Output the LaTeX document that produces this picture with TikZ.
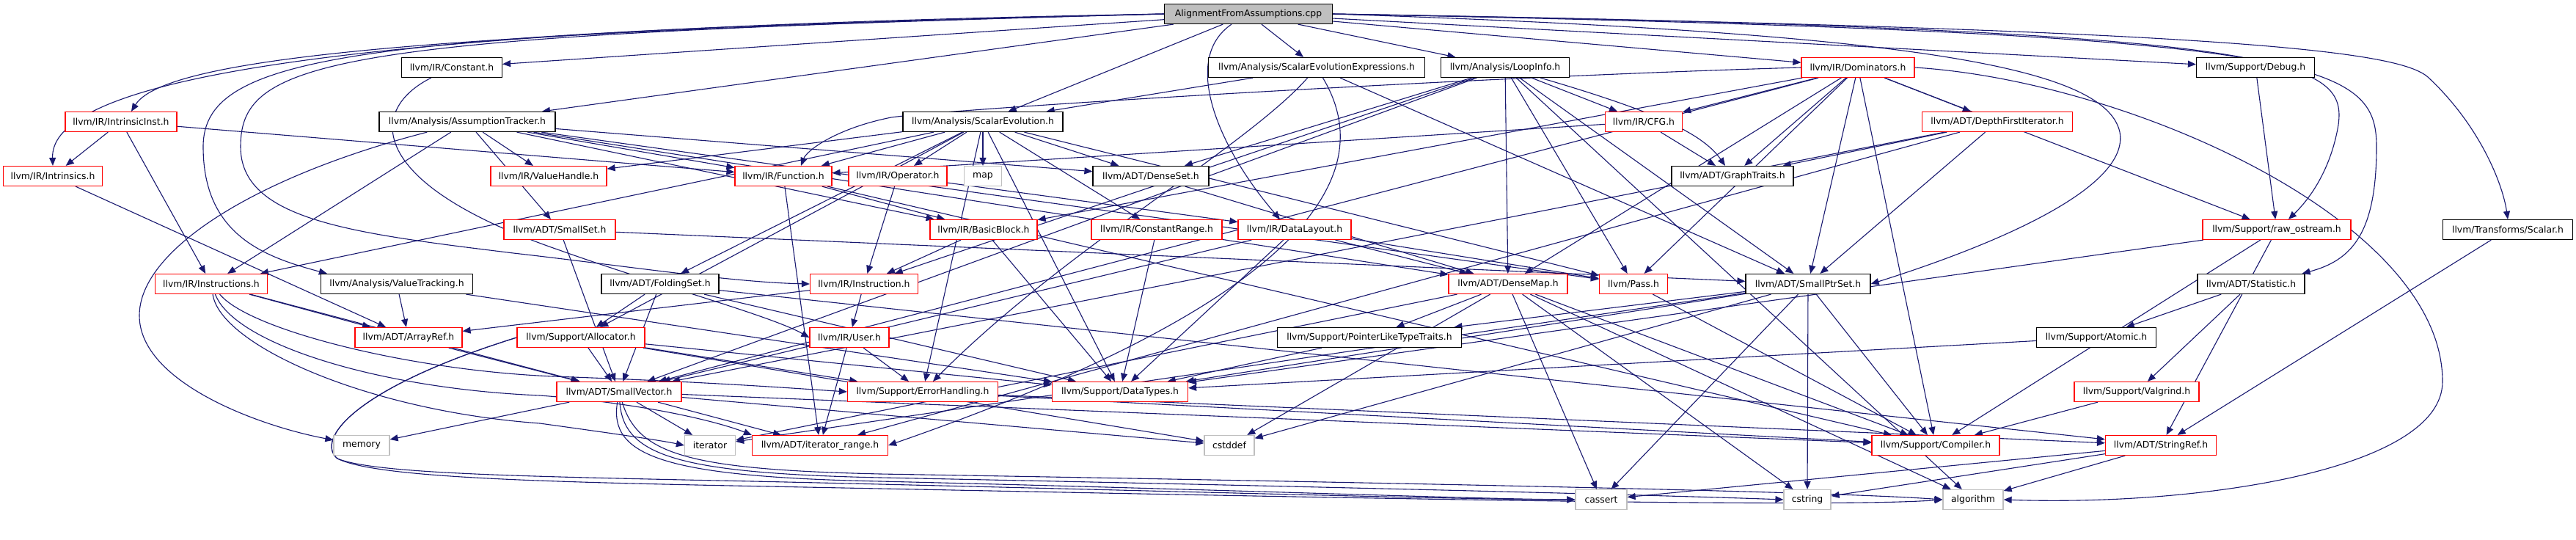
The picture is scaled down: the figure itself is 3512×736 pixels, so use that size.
\documentclass[tikz,border=0pt]{standalone}
\usepackage{fontspec}
\setmainfont{DejaVu Sans}
\usetikzlibrary{arrows.meta}
\definecolor{edgeblue}{HTML}{191970}
\definecolor{sysgray}{HTML}{BFBFBF}
\definecolor{nodered}{HTML}{FF0000}
\newcommand\nodefont{\fontsize{12.4}{14}\selectfont}
\newcommand\lnk[2]{\draw[e] (#1) -- (#2);}
\pgfdeclarelayer{bg}
\pgfsetlayers{bg,main}
\tikzset{
  nd/.style={draw, fill=white, minimum height=27pt, inner sep=0pt, font=\nodefont, line width=1.2pt},
  blknd/.style={nd, draw=black},
  rednd/.style={nd, draw=nodered},
  sysnd/.style={nd, draw=sysgray},
  mainnd/.style={nd, draw=black, fill=sysgray},
  e/.style={draw=edgeblue, line width=1.1pt, -{Triangle[length=11pt,width=9pt]}}
}
\begin{document}
\begin{tikzpicture}[x=1pt,y=-1pt]
\useasboundingbox (0,0) rectangle (3512,736);
% rank 0
\node[mainnd, minimum width=229pt] (cpp) at (1702,19) {AlignmentFromAssumptions.cpp};
% rank 1
\node[blknd, minimum width=137pt] (constant) at (616,92) {llvm/IR/Constant.h};
\node[blknd, minimum width=295pt] (sceexp) at (1795,92) {llvm/Analysis/ScalarEvolutionExpressions.h};
\node[blknd, minimum width=175pt] (loopinfo) at (2052,92) {llvm/Analysis/LoopInfo.h};
\node[rednd, minimum width=154pt] (dom) at (2533,92) {llvm/IR/Dominators.h};
\node[blknd, minimum width=161pt] (debug) at (3075,92) {llvm/Support/Debug.h};
% rank 2
\node[rednd, minimum width=152pt] (intrinst) at (165,166) {llvm/IR/IntrinsicInst.h};
\node[blknd, minimum width=240pt] (assump) at (637,166) {llvm/Analysis/AssumptionTracker.h};
\node[blknd, minimum width=218pt] (sce) at (1340,166) {llvm/Analysis/ScalarEvolution.h};
\node[rednd, minimum width=105pt] (cfg) at (2241,166) {llvm/IR/CFG.h};
\node[rednd, minimum width=205pt] (dfi) at (2723,166) {llvm/ADT/DepthFirstIterator.h};
% rank 3
\node[rednd, minimum width=135pt] (intrinsics) at (72,240) {llvm/IR/Intrinsics.h};
\node[rednd, minimum width=158pt] (vh) at (748,240) {llvm/IR/ValueHandle.h};
\node[rednd, minimum width=132pt] (func) at (1068,240) {llvm/IR/Function.h};
\node[rednd, minimum width=134pt] (oper) at (1224,240) {llvm/IR/Operator.h};
\node[sysnd, minimum width=51pt] (map) at (1340,240) {map};
\node[blknd, minimum width=158pt] (denseset) at (1569,240) {llvm/ADT/DenseSet.h};
\node[blknd, minimum width=166pt] (graphtraits) at (2362,240) {llvm/ADT/GraphTraits.h};
% rank 4
\node[rednd, minimum width=152pt] (smallset) at (763,313) {llvm/ADT/SmallSet.h};
\node[rednd, minimum width=146pt] (bb) at (1341,313) {llvm/IR/BasicBlock.h};
\node[rednd, minimum width=178pt] (crange) at (1577,313) {llvm/IR/ConstantRange.h};
\node[rednd, minimum width=154pt] (dl) at (1765,313) {llvm/IR/DataLayout.h};
\node[rednd, minimum width=202pt] (rawos) at (3104,313) {llvm/Support/raw\_ostream.h};
\node[blknd, minimum width=177pt] (scalar) at (3419,313) {llvm/Transforms/Scalar.h};
% rank 5
\node[rednd, minimum width=153pt] (instrs) at (288,387) {llvm/IR/Instructions.h};
\node[blknd, minimum width=207pt] (vt) at (541,387) {llvm/Analysis/ValueTracking.h};
\node[blknd, minimum width=160pt] (folding) at (900,387) {llvm/ADT/FoldingSet.h};
\node[rednd, minimum width=147pt] (instr) at (1178,387) {llvm/IR/Instruction.h};
\node[rednd, minimum width=162pt] (densemap) at (2056,387) {llvm/ADT/DenseMap.h};
\node[rednd, minimum width=93pt] (pass) at (2227,387) {llvm/Pass.h};
\node[blknd, minimum width=170pt] (smallptr) at (2465,387) {llvm/ADT/SmallPtrSet.h};
\node[blknd, minimum width=146pt] (statistic) at (3069,387) {llvm/ADT/Statistic.h};
% rank 6
\node[rednd, minimum width=146pt] (arrayref) at (557,460) {llvm/ADT/ArrayRef.h};
\node[rednd, minimum width=174pt] (alloc) at (792,460) {llvm/Support/Allocator.h};
\node[rednd, minimum width=108pt] (user) at (1158,460) {llvm/IR/User.h};
\node[blknd, minimum width=251pt] (plt) at (1867,460) {llvm/Support/PointerLikeTypeTraits.h};
\node[blknd, minimum width=163pt] (atomic) at (2858,460) {llvm/Support/Atomic.h};
% rank 7
\node[rednd, minimum width=170pt] (smallvec) at (844,534) {llvm/ADT/SmallVector.h};
\node[rednd, minimum width=205pt] (errh) at (1258,534) {llvm/Support/ErrorHandling.h};
\node[rednd, minimum width=185pt] (datatypes) at (1527,534) {llvm/Support/DataTypes.h};
\node[rednd, minimum width=170pt] (valgrind) at (2913,534) {llvm/Support/Valgrind.h};
% rank 8
\node[sysnd, minimum width=76pt] (memory) at (493,607) {memory};
\node[sysnd, minimum width=69pt] (iterator) at (968,607) {iterator};
\node[rednd, minimum width=185pt] (itrange) at (1118,607) {llvm/ADT/iterator\_range.h};
\node[sysnd, minimum width=68pt] (cstddef) at (1676,607) {cstddef};
\node[rednd, minimum width=174pt] (compiler) at (2639,607) {llvm/Support/Compiler.h};
\node[rednd, minimum width=151pt] (stringref) at (2946,607) {llvm/ADT/StringRef.h};
% rank 9
\node[sysnd, minimum width=70pt] (cassert) at (2183,681) {cassert};
\node[sysnd, minimum width=64pt] (cstring) at (2464,681) {cstring};
\node[sysnd, minimum width=82pt] (algorithm) at (2690,681) {algorithm};

\begin{pgfonlayer}{bg}
\fill[white] (0,0) rectangle (3512,736);
% from the .cpp file
\draw[e] (cpp.west) .. controls (700,35) and (67,80) .. (intrinsics.north);
\draw[e] (cpp.west) .. controls (700,42) and (230,70) .. ([xshift=14pt]intrinst.north);
\draw[e] (cpp.west) .. controls (500,45) and (277,70) .. (277,200) .. controls (277,320) and (360,350) .. ([xshift=9pt]vt.north west);
\draw[e] (cpp.west) .. controls (450,48) and (328,80) .. (328,200) .. controls (328,300) and (480,318) .. (700,345) .. controls (850,362) and (1000,385) .. (instr.west);
\lnk{cpp}{constant}
\lnk{cpp}{assump}
\lnk{cpp}{sce}
\lnk{cpp}{sceexp}
\lnk{cpp}{loopinfo}
\lnk{cpp}{dom}
\lnk{cpp}{debug}
\draw[e] ([xshift=-23pt]cpp.south) .. controls (1610,80) and (1660,200) .. ([xshift=-20pt]dl.north);
\draw[e] (cpp.east) .. controls (3120,40) and (3200,80) .. (3188,170) .. controls (3178,230) and (3150,270) .. ([xshift=16pt]rawos.north);
\draw[e] (cpp.east) .. controls (3150,45) and (3240,80) .. (3240,200) .. controls (3240,320) and (3205,355) .. ([xshift=-4pt]statistic.north east);
\draw[e] (cpp.east) .. controls (3050,40) and (3270,70) .. (3310,105) .. controls (3380,170) and (3412,250) .. (scalar.north);
\draw[e] (cpp.east) .. controls (2600,45) and (2870,90) .. (2890,180) .. controls (2905,260) and (2700,340) .. (smallptr.east);
% Constant.h
\draw[e] (constant) .. controls (500,150) and (500,250) .. (760,340) .. controls (900,390) and (1050,430) .. (user.west);
% ScalarEvolutionExpressions.h
\lnk{sceexp}{sce}
\lnk{sceexp}{smallptr}
\draw[e] (sceexp) .. controls (1700,200) and (1450,340) .. (errh);
\draw[e] (sceexp) .. controls (1890,250) and (1750,420) .. (itrange.east);
% LoopInfo.h
\lnk{loopinfo}{densemap}
\lnk{loopinfo}{denseset}
\draw[e] (loopinfo) .. controls (2250,150) and (2320,180) .. ([xshift=-10pt]graphtraits.north);
\lnk{loopinfo}{smallptr}
\lnk{loopinfo}{smallvec}
\lnk{loopinfo}{cfg}
\lnk{loopinfo}{instr}
\lnk{loopinfo}{pass}
\lnk{loopinfo}{algorithm}
% Dominators.h
\lnk{dom}{densemap}
\lnk{dom}{dfi}
\lnk{dom}{graphtraits}
\lnk{dom}{smallptr}
\lnk{dom}{smallvec}
\lnk{dom}{bb}
\lnk{dom}{cfg}
\draw[e] (dom.west) .. controls (2000,105) and (1300,148) .. (1215,160) .. controls (1140,175) and (1100,205) .. ([xshift=24pt]func.north);
\lnk{dom}{pass}
\lnk{dom}{compiler}
\lnk{dom}{rawos}
\draw[e] (dom.east) .. controls (2900,110) and (3330,300) .. (3330,520) .. controls (3330,640) and (3000,690) .. (algorithm.east);
% Debug.h
\lnk{debug}{rawos}
% IntrinsicInst.h
\lnk{intrinst}{func}
\lnk{intrinst}{instrs}
\lnk{intrinst}{intrinsics}
% AssumptionTracker.h
\lnk{assump}{densemap}
\lnk{assump}{denseset}
\lnk{assump}{smallset}
\lnk{assump}{bb}
\lnk{assump}{func}
\lnk{assump}{instrs}
\lnk{assump}{vh}
\lnk{assump}{pass}
\draw[e] (assump) .. controls (350,240) and (190,340) .. (190,430) .. controls (190,520) and (350,580) .. (memory);
% ScalarEvolution.h
\lnk{sce}{denseset}
\lnk{sce}{folding}
\lnk{sce}{crange}
\lnk{sce}{func}
\lnk{sce}{instrs}
\lnk{sce}{oper}
\lnk{sce}{vh}
\lnk{sce}{pass}
\lnk{sce}{alloc}
\lnk{sce}{datatypes}
\lnk{sce}{errh}
\lnk{sce}{map}
% CFG.h
\lnk{cfg}{graphtraits}
\lnk{cfg}{func}
% DepthFirstIterator.h
\lnk{dfi}{graphtraits}
\lnk{dfi}{smallptr}
\lnk{dfi}{smallvec}
\lnk{dfi}{itrange}
% others
\lnk{intrinsics}{arrayref}
\lnk{func}{bb}
\lnk{func}{compiler}
\lnk{func}{itrange}
\lnk{oper}{dl}
\lnk{oper}{instr}
\lnk{denseset}{densemap}
\lnk{smallset}{smallptr}
\lnk{smallset}{smallvec}
\lnk{bb}{instr}
\lnk{bb}{datatypes}
\lnk{crange}{datatypes}
\lnk{dl}{densemap}
\lnk{dl}{smallvec}
\lnk{dl}{pass}
\lnk{dl}{datatypes}
\lnk{rawos}{stringref}
\lnk{rawos}{compiler}
\lnk{rawos}{datatypes}
\lnk{scalar}{stringref}
% Instructions.h
\lnk{instrs}{arrayref}
\lnk{instrs}{smallvec}
\draw[e] (instrs) .. controls (320,470) and (520,530) .. (736,539) .. controls (880,550) and (980,575) .. (itrange.north west);
\draw[e] (instrs) .. controls (340,450) and (560,505) .. (754,513) .. controls (950,520) and (1050,527) .. (errh.west);
\draw[e] (instrs) .. controls (300,470) and (500,560) .. (736,577) .. controls (830,590) and (900,600) .. (iterator.west);
\lnk{vt}{arrayref}
\lnk{vt}{datatypes}
\lnk{folding}{smallvec}
\lnk{folding}{stringref}
\lnk{folding}{alloc}
\lnk{folding}{datatypes}
\lnk{instr}{user}
\lnk{instr}{arrayref}
\lnk{densemap}{plt}
\lnk{densemap}{compiler}
\lnk{densemap}{algorithm}
\lnk{densemap}{cassert}
\lnk{densemap}{cstddef}
\lnk{densemap}{cstring}
\lnk{densemap}{iterator}
\lnk{pass}{compiler}
\lnk{smallptr}{compiler}
\lnk{smallptr}{datatypes}
\lnk{smallptr}{plt}
\lnk{smallptr}{cassert}
\lnk{smallptr}{cstddef}
\lnk{smallptr}{cstring}
\lnk{smallptr}{iterator}
\lnk{statistic}{atomic}
\lnk{statistic}{valgrind}
\lnk{arrayref}{smallvec}
% Allocator.h
\lnk{alloc}{smallvec}
\lnk{alloc}{datatypes}
\lnk{alloc}{errh}
\draw[e] (alloc.west) .. controls (480,530) and (430,600) .. (460,625) .. controls (520,650) and (800,650) .. (1200,660) .. controls (1700,672) and (2000,681) .. (cassert.west);
\draw[e] (alloc.west) .. controls (480,530) and (430,600) .. (460,625) .. controls (520,655) and (800,658) .. (1200,666) .. controls (1900,680) and (2500,692) .. (algorithm.west);
\lnk{alloc}{cstddef}
\lnk{user}{errh}
\lnk{user}{itrange}
\lnk{plt}{datatypes}
\lnk{atomic}{datatypes}
% SmallVector.h
\lnk{smallvec}{compiler}
\draw[e] (smallvec) .. controls (830,620) and (900,650) .. (1200,656) .. controls (1700,668) and (2000,680) .. (cassert.west);
\draw[e] (smallvec) .. controls (850,620) and (920,645) .. (1200,651) .. controls (1800,663) and (2300,676) .. (cstring.west);
\draw[e] (smallvec) .. controls (870,620) and (940,640) .. (1200,646) .. controls (1900,658) and (2500,670) .. (algorithm.west);
\lnk{smallvec}{cstddef}
\lnk{smallvec}{iterator}
\lnk{smallvec}{memory}
\lnk{smallvec}{itrange}
\lnk{errh}{compiler}
\lnk{errh}{stringref}
\lnk{valgrind}{compiler}
\lnk{stringref}{algorithm}
\lnk{stringref}{cassert}
\lnk{stringref}{cstring}
\end{pgfonlayer}
\end{tikzpicture}
\end{document}
